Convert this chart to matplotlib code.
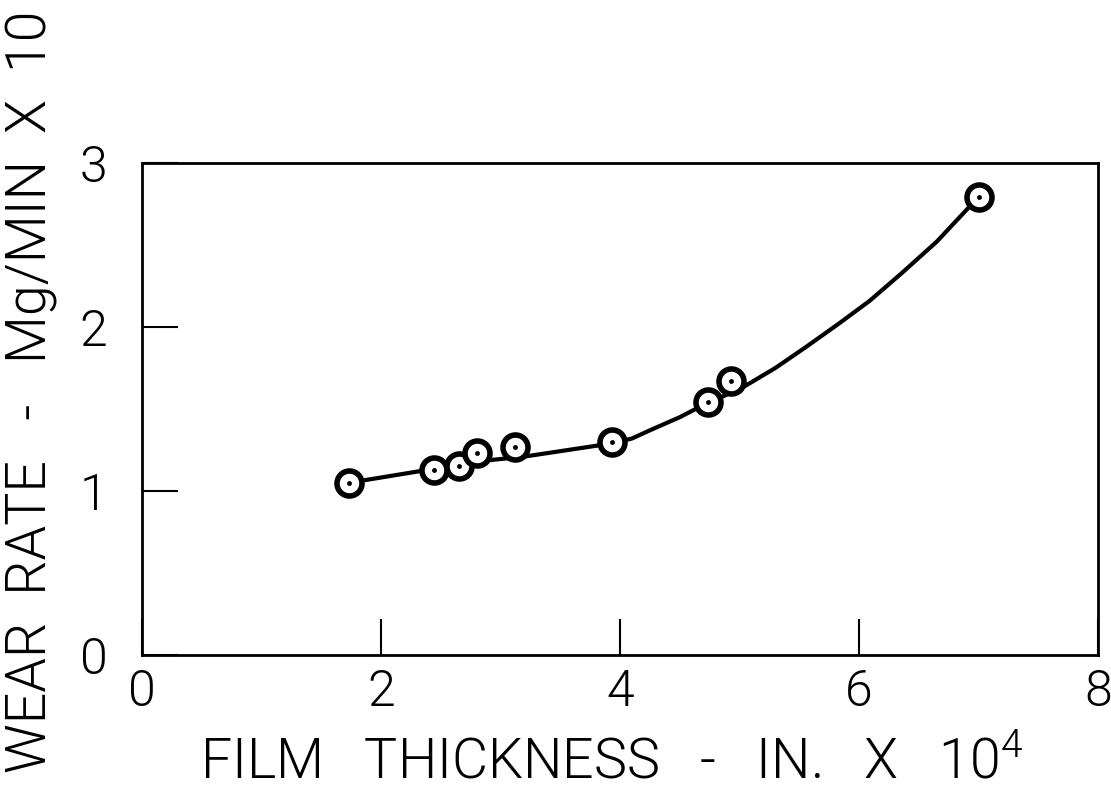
import numpy as np
import matplotlib.pyplot as plt

# measured points
film = [1.73, 2.44, 2.65, 2.80, 3.12, 3.93, 4.74, 4.93, 7.00]
wear = [1.05, 1.13, 1.15, 1.23, 1.27, 1.30, 1.54, 1.67, 2.79]

# faired curve through the data
curve_x = [1.73, 2.40, 2.80, 3.20, 3.93, 4.10, 4.25, 4.50, 4.74, 5.00, 5.30, 5.56,
           5.83, 6.09, 6.36, 6.65, 6.92, 7.00]
curve_y = [1.05, 1.13, 1.18, 1.21, 1.29, 1.32, 1.37, 1.45, 1.54, 1.62, 1.75, 1.88,
           2.02, 2.16, 2.33, 2.52, 2.73, 2.79]

xticks = [0, 2, 4, 6, 8]
yticks = [0, 1, 2, 3]

plt.rcParams['font.family'] = ['Roboto', 'DejaVu Sans']
plt.rcParams['font.weight'] = 300
plt.rcParams['mathtext.fontset'] = 'custom'
plt.rcParams['mathtext.rm'] = 'Roboto'

fig = plt.figure(figsize=(11.11, 7.91), dpi=100)
ax = fig.add_axes([142/1111, 1 - 655/791, (1098-142)/1111, (655-163)/791])

ax.plot(curve_x, curve_y, color='black', lw=3)
ax.plot(film, wear, 'o', ms=18, mfc='white', mec='black', mew=4)
ax.plot(film, wear, '.', ms=5, color='black')

ax.set_xlim(0, 8)
ax.set_ylim(0, 3)
ax.set_xticks(xticks)
ax.set_yticks(yticks)
ax.set_xticklabels([str(t) for t in xticks], fontsize=36)
ax.set_yticklabels([str(t) for t in yticks], fontsize=36)
ax.tick_params(direction='in', length=26, width=1.5)
ax.tick_params(axis='x', pad=10)
ax.tick_params(axis='y', pad=25)
for s in ax.spines.values():
    s.set_linewidth(2)

fig.text(612/1111, 1 - 762/791, 'FILM   THICKNESS   -   IN.   X   10$^4$',
         fontsize=40, ha='center', va='center')
fig.text(32/1111, 1 - 392/791, 'WEAR  RATE   -   Mg/MIN  X  10',
         fontsize=40, ha='center', va='center', rotation=90)

fig.savefig('out.png', dpi=100)
